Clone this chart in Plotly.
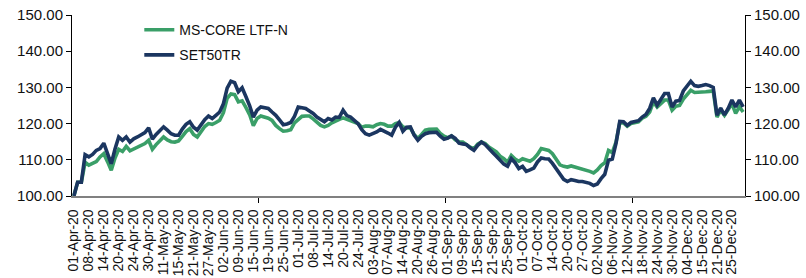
import plotly.graph_objects as go

# ---- data ----
tick_labels = ["01-Apr-20", "08-Apr-20", "14-Apr-20", "20-Apr-20", "24-Apr-20", "30-Apr-20",
               "11-May-20", "15-May-20", "21-May-20", "27-May-20", "02-Jun-20", "09-Jun-20",
               "15-Jun-20", "19-Jun-20", "25-Jun-20", "01-Jul-20", "08-Jul-20", "14-Jul-20",
               "20-Jul-20", "24-Jul-20", "03-Aug-20", "07-Aug-20", "14-Aug-20", "20-Aug-20",
               "26-Aug-20", "01-Sep-20", "09-Sep-20", "15-Sep-20", "21-Sep-20", "25-Sep-20",
               "01-Oct-20", "07-Oct-20", "14-Oct-20", "20-Oct-20", "27-Oct-20", "02-Nov-20",
               "06-Nov-20", "12-Nov-20", "18-Nov-20", "24-Nov-20", "30-Nov-20", "04-Dec-20",
               "15-Dec-20", "21-Dec-20", "25-Dec-20"]
label_step = 4  # one label every 4 trading days

ms_core = [100.0, 103.8, 103.8, 109.3, 108.5, 109.0, 109.5, 110.8, 111.7, 109.5,
           107.1, 110.5, 112.9, 112.3, 113.7, 112.5, 113.0, 113.7, 114.0, 114.5,
           115.4, 112.9, 114.2, 115.3, 116.3, 115.5, 115.0, 114.9, 115.2, 116.5,
           117.8, 118.6, 117.0, 116.3, 117.8, 119.2, 120.0, 119.8, 120.3, 120.9,
           123.0, 127.0, 128.2, 128.0, 126.0, 126.3, 124.5, 122.5, 119.4, 121.4,
           122.1, 121.8, 121.5, 120.9, 119.5, 118.6, 117.9, 118.0, 118.3, 120.2,
           121.0, 122.0, 122.1, 122.1, 121.3, 120.3, 119.5, 119.1, 119.5, 120.2,
           120.8, 121.2, 121.6, 121.2, 120.9, 120.5, 120.0, 119.0, 119.3, 119.3,
           119.1, 119.7, 120.0, 119.8, 119.3, 119.3, 120.0, 120.3, 119.1, 118.8,
           118.8, 117.0, 115.9, 117.0, 118.2, 118.4, 118.5, 118.5, 117.3, 116.5,
           116.1, 116.6, 115.5, 115.0, 114.9, 114.2, 113.5, 113.1, 114.3, 114.9,
           114.5, 113.5, 112.8, 112.2, 111.0, 110.3, 109.3, 111.2, 110.2, 109.6,
           110.3, 110.0, 109.6, 110.3, 111.5, 113.1, 112.8, 112.6, 111.7, 110.2,
           108.6, 108.2, 108.0, 108.3, 108.0, 107.7, 107.5, 107.3, 106.8, 106.4,
           107.2, 108.4, 109.2, 112.6, 112.0, 114.9, 120.2, 120.2, 119.3, 120.0,
           120.3, 120.5, 121.5, 122.0, 123.2, 126.0, 124.6, 125.5, 126.5, 126.5,
           123.7, 124.8, 125.0, 126.8, 128.2, 129.2, 128.6, 128.6, 128.8, 128.8,
           128.9, 129.0, 121.8, 123.7, 122.3, 123.8, 125.5, 122.8, 124.6, 123.2]

set50tr = [100.0, 103.8, 103.8, 111.4, 110.8, 111.5, 112.6, 113.1, 114.6, 112.0,
           108.9, 113.0, 116.3, 115.4, 116.3, 114.9, 115.8, 116.3, 117.0, 117.5,
           118.8, 115.7, 117.0, 118.0, 119.1, 118.2, 117.2, 116.8, 116.8, 118.5,
           119.8, 120.5, 119.0, 118.2, 119.8, 121.1, 122.1, 121.4, 122.3, 123.2,
           125.5, 129.8, 131.7, 131.3, 128.8, 129.9, 127.5, 125.0, 121.8, 123.7,
           124.6, 124.4, 124.2, 123.2, 122.3, 121.0, 119.7, 119.9, 120.3, 122.0,
           124.6, 124.4, 124.2, 123.5, 122.8, 121.8, 121.2, 120.5, 121.4, 121.0,
           121.8, 121.7, 123.7, 122.2, 121.8, 121.0, 120.0, 118.3, 117.2, 116.8,
           117.2, 117.7, 118.4, 118.0, 117.4, 116.8, 119.0, 120.3, 117.9, 119.0,
           119.1, 116.8, 115.4, 116.5, 117.2, 117.5, 117.6, 117.6, 116.5, 115.7,
           116.0, 116.6, 115.9, 114.6, 114.4, 114.2, 113.3, 112.6, 114.0, 114.9,
           114.2, 113.0, 112.0, 111.0, 109.8, 108.8, 108.2, 110.3, 109.2, 107.6,
           108.2, 106.8, 107.2, 107.7, 109.4, 110.5, 110.3, 110.2, 109.0, 107.4,
           105.8, 104.6, 104.0, 104.5, 104.3, 104.0, 104.0, 103.7, 103.5, 102.9,
           103.3, 104.8, 106.0, 109.9, 110.2, 114.5, 120.6, 120.5, 119.5, 120.3,
           120.6, 120.8, 121.8, 122.5, 124.2, 127.1, 125.1, 126.8, 128.3, 128.3,
           124.6, 126.2, 126.4, 129.0, 130.5, 131.7, 130.5, 130.3, 130.5, 130.8,
           130.5, 130.0, 122.3, 124.3, 122.4, 124.2, 126.5, 124.6, 126.5, 124.6]

series_names = ["MS-CORE LTF-N", "SET50TR"]
series_colors = ["#3A9F68", "#1B3660"]

# ---- figure ----
n = len(set50tr)
xs = list(range(n))
tickvals = list(range(0, label_step * len(tick_labels), label_step))

FONT = "Liberation Sans, Arial, sans-serif"

fig = go.Figure()
fig.add_trace(go.Scatter(x=xs, y=ms_core, mode="lines", name=series_names[0],
                         line=dict(color=series_colors[0], width=3.6),
                         legendgroup="a"))
fig.add_trace(go.Scatter(x=xs, y=set50tr, mode="lines", name=series_names[1],
                         line=dict(color=series_colors[1], width=3.6),
                         legendgroup="b", yaxis="y2"))

yax = dict(range=[100, 150], dtick=10, tick0=100, tickformat=".2f",
           showgrid=False, zeroline=False, showline=True, linecolor="#000000",
           linewidth=1, ticks="outside", ticklen=5, tickcolor="#000000",
           automargin=False,
           tickfont=dict(family=FONT, size=15, color="#111111"))

fig.update_layout(
    width=806, height=278,
    margin=dict(l=72, r=61, t=15, b=82),
    paper_bgcolor="white", plot_bgcolor="white",
    font=dict(family=FONT, color="#111111"),
    xaxis=dict(range=[-0.5, n - 0.5], tickmode="array", tickvals=tickvals,
               ticktext=tick_labels, tickangle=-90, ticks="",
               tickfont=dict(family=FONT, size=14, color="#111111"),
               showgrid=False, zeroline=False, showline=True, automargin=False,
               linecolor="#808080", linewidth=1.5, ticklabelstandoff=6,
               minor=dict(tickmode="array", tickvals=[49.5, 99.5, 149.5],
                          ticks="outside", ticklen=5, tickcolor="#000000",
                          showgrid=False)),
    yaxis=dict(**yax, side="left"),
    yaxis2=dict(**yax, side="right", overlaying="y"),
    legend=dict(x=0.1, y=1.005, xanchor="left", yanchor="top",
                bgcolor="rgba(0,0,0,0)", borderwidth=0,
                traceorder="grouped", tracegroupgap=4,
                font=dict(family=FONT, size=14, color="#111111")),
    showlegend=True,
)

fig.write_html("out.html",
               config={"displayModeBar": False},
               post_script="document.body.style.margin='0';document.body.style.overflow='hidden';")
